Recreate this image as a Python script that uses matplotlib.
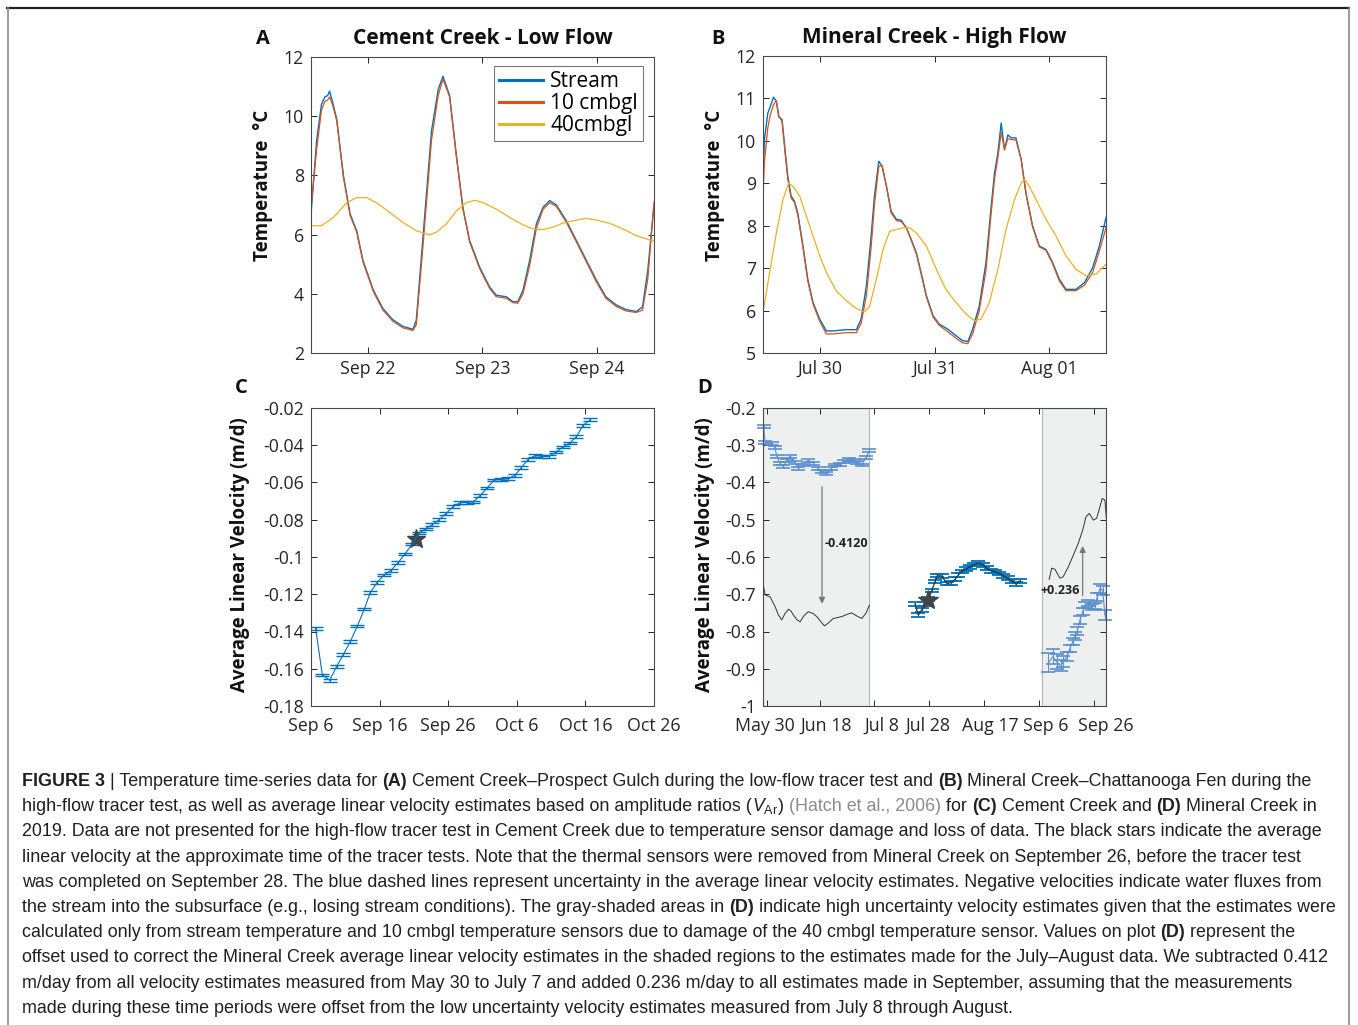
import matplotlib
matplotlib.use("Agg")
import matplotlib.pyplot as plt
import matplotlib.dates as mdates
import matplotlib.transforms as mtransforms
from matplotlib.lines import Line2D
from matplotlib.font_manager import FontProperties
import pandas as pd

W, H = 1358, 1025

# ---------------- data ----------------
# A: Cement Creek, hours after 2019-09-21 00:00
hours_A = [12.0, 13.2, 14.2, 14.9, 15.5, 15.9, 16.5, 17.4, 18.8, 20.2, 21.6, 22.9, 25.1, 27.1, 29.2,
           31.3, 33.4, 34.1, 35.5, 37.3, 38.7, 39.7, 41.1, 42.5, 43.9, 45.3, 47.4, 49.5, 50.9, 53.0,
           54.4, 55.4, 56.5, 57.9, 59.3, 60.7, 62.1, 63.5, 65.6, 67.7, 69.8, 71.9, 73.9, 76.1, 78.1,
           80.3, 81.6, 82.7, 84.0]
stream_A = [6.7, 9.2, 10.4, 10.65, 10.7, 10.85, 10.5, 9.9, 8.0, 6.7, 6.13, 5.13, 4.12, 3.5, 3.12,
            2.9, 2.8, 3.1, 5.9, 9.5, 10.9, 11.35, 10.7, 8.7, 6.9, 5.8, 4.9, 4.23, 3.95, 3.9,
            3.73, 3.73, 4.12, 5.13, 6.36, 6.92, 7.15, 7.0, 6.47, 5.8, 5.13, 4.46, 3.9, 3.62, 3.47,
            3.4, 3.56, 4.8, 7.0]
cm10_A = [6.9, 8.9, 10.2, 10.5, 10.55, 10.65, 10.4, 9.85, 7.95, 6.65, 6.08, 5.08, 4.07, 3.45, 3.07,
          2.85, 2.76, 2.95, 5.6, 9.2, 10.7, 11.25, 10.65, 8.65, 6.85, 5.75, 4.85, 4.18, 3.9, 3.85,
          3.7, 3.68, 4.0, 4.95, 6.2, 6.85, 7.08, 6.95, 6.42, 5.75, 5.08, 4.4, 3.85, 3.57, 3.42,
          3.37, 3.45, 4.5, 7.1]
hours40_A = [12.0, 14.2, 16.7, 19.5, 21.6, 23.7, 25.7, 28.5, 31.3, 34.1, 36.9, 38.3, 40.4, 42.5, 44.6,
             46.4, 48.1, 50.9, 53.7, 56.5, 58.6, 60.7, 62.8, 64.9, 67.7, 69.8, 71.9, 74.7, 77.5, 80.2,
             83.0, 84.0]
cm40_A = [6.3, 6.3, 6.58, 7.08, 7.25, 7.25, 7.08, 6.75, 6.41, 6.13, 5.99, 6.08, 6.36, 6.8, 7.08,
          7.16, 7.08, 6.86, 6.58, 6.33, 6.19, 6.17, 6.25, 6.39, 6.49, 6.55, 6.49, 6.38, 6.19, 5.97,
          5.82, 5.8]

# B: Mineral Creek, hours after 2019-07-29 00:00
hours_B = [12.0, 12.3, 13.0, 13.5, 14.2, 14.8, 15.3, 16.0, 16.7, 17.2, 17.9, 18.6, 19.3, 20.4, 21.4,
           22.5, 23.9, 25.3, 26.7, 29.5, 31.6, 32.6, 33.7, 34.7, 35.4, 36.3, 37.0, 37.9, 38.9, 40.0,
           41.0, 42.1, 43.1, 44.2, 45.2, 46.3, 47.7, 49.0, 50.8, 52.5, 53.9, 55.0, 56.0, 57.4, 58.8,
           59.9, 60.6, 61.3, 62.0, 62.7, 63.4, 64.1, 65.1, 66.2, 67.2, 68.6, 70.0, 71.4, 72.8, 74.2,
           75.6, 77.7, 79.5, 81.2, 82.6, 84.0]
stream_B = [9.17, 10.03, 10.65, 10.8, 11.03, 10.93, 10.57, 10.5, 9.71, 9.17, 8.7, 8.58, 8.3, 7.52, 6.74,
            6.19, 5.8, 5.52, 5.52, 5.55, 5.55, 5.8, 6.58, 7.76, 8.7, 9.52, 9.4, 8.93, 8.34, 8.15,
            8.13, 7.95, 7.68, 7.36, 6.89, 6.35, 5.88, 5.68, 5.56, 5.41, 5.29, 5.27, 5.56, 6.11, 7.13,
            8.46, 9.24, 9.71, 10.42, 9.79, 10.14, 10.07, 10.07, 9.56, 8.77, 7.99, 7.52, 7.44, 7.13, 6.74,
            6.5, 6.5, 6.66, 7.01, 7.52, 8.19]
cm10_B = [8.7, 9.5, 10.3, 10.6, 10.85, 10.95, 10.6, 10.45, 9.65, 9.1, 8.65, 8.55, 8.25, 7.48, 6.7,
          6.15, 5.75, 5.45, 5.45, 5.48, 5.48, 5.7, 6.35, 7.5, 8.5, 9.4, 9.42, 8.95, 8.3, 8.12,
          8.1, 7.95, 7.66, 7.33, 6.86, 6.32, 5.85, 5.65, 5.5, 5.35, 5.24, 5.22, 5.45, 6.0, 6.95,
          8.3, 9.1, 9.6, 10.2, 9.8, 10.05, 10.03, 10.02, 9.55, 8.75, 7.97, 7.5, 7.42, 7.1, 6.7,
          6.47, 6.47, 6.6, 6.9, 7.4, 7.95]
hours40_B = [12.0, 13.4, 14.8, 16.2, 17.4, 18.6, 19.7, 21.1, 22.5, 23.9, 25.3, 27.4, 29.5, 31.6, 33.3,
             34.4, 35.8, 37.2, 38.6, 40.0, 41.4, 42.8, 44.2, 46.3, 48.4, 50.4, 52.5, 54.6, 56.4, 57.8,
             59.5, 61.3, 63.0, 64.8, 66.2, 66.9, 67.9, 69.3, 71.4, 73.5, 75.6, 77.7, 79.8, 81.9, 84.0]
cm40_B = [5.95, 6.9, 7.83, 8.62, 9.01, 8.89, 8.7, 8.23, 7.76, 7.29, 6.9, 6.46, 6.23, 6.05, 5.97,
          6.11, 6.74, 7.44, 7.87, 7.91, 7.95, 7.95, 7.83, 7.52, 6.97, 6.5, 6.19, 5.92, 5.76, 5.8,
          6.19, 6.97, 7.91, 8.62, 9.01, 9.09, 8.93, 8.62, 8.15, 7.76, 7.29, 6.97, 6.82, 6.86, 7.09]

# C: Cement Creek velocity, days after 2019-09-06
days_C = [0.68, 1.65, 2.72, 3.74, 4.71, 5.73, 6.75, 7.77, 8.64, 9.66, 10.63, 11.65, 12.67, 13.69,
          14.76, 15.73, 16.7, 17.67, 18.69, 19.66, 20.73, 21.7, 22.67, 23.64, 24.66, 25.68, 26.7,
          27.67, 28.74, 29.71, 30.68, 31.65, 32.67, 33.69, 34.66, 35.68, 36.7, 37.72, 38.69, 39.66, 40.73]
vel_C = [-0.1384, -0.1633, -0.1662, -0.1588, -0.1524, -0.1454, -0.1371, -0.128, -0.119, -0.1136,
         -0.1097, -0.1072, -0.1031, -0.0984, -0.093, -0.0871, -0.0849, -0.0826, -0.0799, -0.0767,
         -0.0729, -0.0709, -0.0706, -0.0704, -0.067, -0.0629, -0.0586, -0.0584, -0.058, -0.0562,
         -0.0519, -0.0476, -0.0455, -0.046, -0.046, -0.0437, -0.041, -0.0388, -0.0354, -0.0293, -0.0263]
err_C = 0.0007
star_C = (15.26, -0.0905)

# D: Mineral Creek velocity, days after 2019-05-30
days_D1 = [-1.35, -0.84, 1.6, 2.8, 3.4, 4.6, 5.8, 7.1, 8.3, 10.1, 11.3, 13.2, 14.8, 16.8, 18.4,
           19.9, 21.4, 23.3, 24.8, 26.6, 28.1, 29.8, 31.4, 32.6, 34.4, 36.0, 37.2]
vel_D1 = [-0.250, -0.293, -0.295, -0.307, -0.329, -0.348, -0.358, -0.340, -0.329, -0.347, -0.362,
          -0.353, -0.340, -0.348, -0.362, -0.371, -0.375, -0.362, -0.353, -0.351, -0.344, -0.338,
          -0.340, -0.347, -0.353, -0.332, -0.315]
days_D1c = [-1.7, -0.8, 1.0, 2.8, 4.0, 5.2, 6.4, 7.7, 8.6, 9.5, 10.7, 11.9, 13.4, 14.9, 16.5, 18.0,
            19.4, 20.8, 22.4, 24.0, 27.1, 29.0, 30.7, 32.5, 34.4, 36.0, 37.2]
vel_D1c = [-0.666, -0.702, -0.707, -0.733, -0.755, -0.769, -0.752, -0.740, -0.745, -0.756, -0.768,
           -0.774, -0.757, -0.747, -0.751, -0.760, -0.773, -0.785, -0.776, -0.765, -0.760, -0.754,
           -0.750, -0.758, -0.765, -0.750, -0.729]
days_D2 = [53.8, 55.0, 56.2, 57.4, 58.7, 59.9, 61.1, 61.9, 63.5, 65.4, 66.9, 68.4, 69.6, 70.8, 72.4,
           73.8, 75.4, 76.9, 78.5, 79.9, 81.5, 83.0, 84.5, 86.0, 87.6, 89.0, 90.6, 92.1]
vel_D2 = [-0.726, -0.756, -0.742, -0.726, -0.712, -0.690, -0.666, -0.650, -0.651, -0.671, -0.669,
          -0.660, -0.648, -0.639, -0.633, -0.626, -0.620, -0.617, -0.621, -0.630, -0.637, -0.639,
          -0.644, -0.651, -0.657, -0.664, -0.673, -0.664]
star_D = (58.7, -0.715)
days_D3 = [102.4, 104.0, 105.4, 106.9, 107.8, 109.1, 110.3, 111.3, 112.1, 112.9, 113.9, 114.9,
           115.7, 116.9, 118.2, 119.4, 120.2, 121.2, 122.2, 123.0]
vel_D3 = [-0.884, -0.868, -0.881, -0.892, -0.881, -0.868, -0.845, -0.827, -0.812, -0.799, -0.769,
          -0.747, -0.729, -0.724, -0.733, -0.732, -0.707, -0.684, -0.689, -0.756]
err_D3 = [0.025, 0.02, 0.02, 0.015, 0.015, 0.012, 0.01, 0.01, 0.01, 0.01, 0.01, 0.01, 0.008, 0.008,
          0.008, 0.008, 0.01, 0.012, 0.012, 0.014]
days_D3c = [102.7, 103.6, 104.8, 106.6, 107.8, 109.7, 111.5, 113.3, 114.9, 116.1, 117.3, 118.8,
            120.0, 121.2, 122.0, 123.0, 123.6]
vel_D3c = [-0.660, -0.630, -0.633, -0.657, -0.653, -0.626, -0.595, -0.563, -0.528, -0.492, -0.483,
           -0.501, -0.496, -0.465, -0.443, -0.447, -0.501]
shade_D = [(-1.6, 37.2), (100.0, 123.5)]
offsets_D = ["-0.4120", "+0.236"]

ticks_A = ["Sep 22", "Sep 23", "Sep 24"]
ticks_B = ["Jul 30", "Jul 31", "Aug 01"]
ticks_C = ["Sep 6", "Sep 16", "Sep 26", "Oct 6", "Oct 16", "Oct 26"]
ticks_D = ["May 30", "Jun 18", "Jul 8", "Jul 28", "Aug 17", "Sep 6", "Sep 26"]
yt_C = ["-0.18", "-0.16", "-0.14", "-0.12", "-0.1", "-0.08", "-0.06", "-0.04", "-0.02"]
yt_D = ["-1", "-0.9", "-0.8", "-0.7", "-0.6", "-0.5", "-0.4", "-0.3", "-0.2"]

caption = [
    [("FIGURE 3", "b"), (" | Temperature time-series data for ", "n"), ("(A)", "b"),
     (" Cement Creek\u2013Prospect Gulch during the low-flow tracer test and ", "n"), ("(B)", "b"),
     (" Mineral Creek\u2013Chattanooga Fen during the", "n")],
    [("high-flow tracer test, as well as average linear velocity estimates based on amplitude ratios (", "n"),
     (r"$V_{\mathrm{Ar}}$", "m"), (") ", "n"), ("(Hatch et al., 2006)", "g"), (" for ", "n"), ("(C)", "b"),
     (" Cement Creek and ", "n"), ("(D)", "b"), (" Mineral Creek in", "n")],
    [("2019. Data are not presented for the high-flow tracer test in Cement Creek due to temperature sensor damage and loss of data. The black stars indicate the average", "n")],
    [("linear velocity at the approximate time of the tracer tests. Note that the thermal sensors were removed from Mineral Creek on September 26, before the tracer test", "n")],
    [("was completed on September 28. The blue dashed lines represent uncertainty in the average linear velocity estimates. Negative velocities indicate water fluxes from", "n")],
    [("the stream into the subsurface (e.g., losing stream conditions). The gray-shaded areas in ", "n"), ("(D)", "b"),
     (" indicate high uncertainty velocity estimates given that the estimates were", "n")],
    [("calculated only from stream temperature and 10 cmbgl temperature sensors due to damage of the 40 cmbgl temperature sensor. Values on plot ", "n"),
     ("(D)", "b"), (" represent the", "n")],
    [("offset used to correct the Mineral Creek average linear velocity estimates in the shaded regions to the estimates made for the July\u2013August data. We subtracted 0.412", "n")],
    [("m/day from all velocity estimates measured from May 30 to July 7 and added 0.236 m/day to all estimates made in September, assuming that the measurements", "n")],
    [("made during these time periods were offset from the low uncertainty velocity estimates measured from July 8 through August.", "n")],
]

# ---------------- style ----------------
plt.rcParams["font.family"] = ["Open Sans", "DejaVu Sans"]
plt.rcParams["axes.unicode_minus"] = False
plt.rcParams["mathtext.fontset"] = "custom"
plt.rcParams["mathtext.rm"] = "Liberation Sans"
plt.rcParams["mathtext.it"] = "Liberation Sans:italic"
plt.rcParams["mathtext.bf"] = "Liberation Sans:bold"

BLUE, RED, YEL = "#0072BD", "#D95319", "#EDB120"
LBLUE = "#5b8fcf"
INK = "#262626"


def hrs(base, h):
    return mdates.date2num(pd.Timestamp(base) + pd.to_timedelta(h, unit="h"))


def dys(base, d):
    return mdates.date2num(pd.Timestamp(base) + pd.to_timedelta(d, unit="D"))


fig = plt.figure(figsize=(W / 100, H / 100), dpi=100)


def px_axes(l, t, r, b):
    return fig.add_axes([l / W, 1 - b / H, (r - l) / W, (b - t) / H])


def style(ax, xpad):
    ax.tick_params(direction="in", top=True, right=True, length=4, width=0.7,
                   colors=INK, labelsize=12.8, pad=5)
    ax.tick_params(axis="x", pad=xpad)
    for s in ax.spines.values():
        s.set_color("#4a4a4a")
        s.set_linewidth(0.8)


axA = px_axes(311, 57, 654, 353)
axB = px_axes(763, 56, 1106, 353)
axC = px_axes(311, 408, 654, 706)
axD = px_axes(763, 408, 1106, 706)

# ---- A ----
axA.plot(hrs("2019-09-21", hours_A), stream_A, color=BLUE, lw=1.0, label="Stream")
axA.plot(hrs("2019-09-21", hours_A), cm10_A, color=RED, lw=0.9, label="10 cmbgl")
axA.plot(hrs("2019-09-21", hours40_A), cm40_A, color=YEL, lw=0.9, label="40cmbgl")
axA.set_xlim(hrs("2019-09-21", [12.0, 84.0]))
axA.set_ylim(2, 12)
axA.set_yticks([2, 4, 6, 8, 10, 12])
axA.set_xticks(dys("2019-09-22", [0, 1, 2]))
axA.set_xticklabels(ticks_A)
leg = axA.legend(loc="upper right", bbox_to_anchor=(0.968, 0.97), borderaxespad=0, fontsize=15,
                 handlelength=2.1, handletextpad=0.35, labelspacing=0.05, borderpad=0.25,
                 fancybox=False, framealpha=1, edgecolor="#777777")
leg.get_frame().set_linewidth(0.8)
for ln in leg.get_lines():
    ln.set_linewidth(2.2)

# ---- B ----
axB.plot(hrs("2019-07-29", hours_B), stream_B, color=BLUE, lw=1.0)
axB.plot(hrs("2019-07-29", hours_B), cm10_B, color=RED, lw=0.9)
axB.plot(hrs("2019-07-29", hours40_B), cm40_B, color=YEL, lw=0.9)
axB.set_xlim(hrs("2019-07-29", [12.0, 84.0]))
axB.set_ylim(5, 12)
axB.set_yticks(range(5, 13))
axB.set_xticks(dys("2019-07-30", [0, 1, 2]))
axB.set_xticklabels(ticks_B)

for ax, title, letter, lx in [(axA, "Cement Creek - Low Flow", "A", 256), (axB, "Mineral Creek - High Flow", "B", 711)]:
    ax.set_title(title, fontsize=15, fontweight="bold", pad=9, color="#111111")
    ax.set_ylabel("Temperature  \u00b0C", fontsize=13.5, fontweight="bold", color="#111111")
    ax.yaxis.set_label_coords(-0.11, 0.565)
    fig.text(lx / W, 1 - 44 / H, letter, fontsize=14.5, fontweight="bold", color="#111111")

# ---- C ----
axC.errorbar(dys("2019-09-06", days_C), vel_C, yerr=err_C, fmt="-", color=BLUE, lw=0.8,
             elinewidth=0.9, capsize=5, capthick=1.0)
axC.plot(dys("2019-09-06", [star_C[0]]), [star_C[1]], marker="*", ms=14, color="#444444", mec="#444444")
axC.set_xlim(dys("2019-09-06", [0, 50]))
axC.set_xticks(dys("2019-09-06", [0, 10, 20, 30, 40, 50]))
axC.set_xticklabels(ticks_C)
axC.set_ylim(-0.18, -0.02)
axC.set_yticks([-0.18 + 0.02 * i for i in range(9)])
axC.set_yticklabels(yt_C)

# ---- D ----
for a, b in shade_D:
    axD.axvspan(dys("2019-05-30", a), dys("2019-05-30", b), facecolor="#eef0ef", edgecolor="#b5b5b5",
                lw=0.8, zorder=0)
axD.errorbar(dys("2019-05-30", days_D1), vel_D1, yerr=0.004, fmt="-", color=LBLUE, lw=0.8,
             elinewidth=0.8, capsize=5, capthick=1.2, clip_on=False)
axD.plot(dys("2019-05-30", days_D1c), vel_D1c, color="#333333", lw=0.7)
axD.errorbar(dys("2019-05-30", days_D2), vel_D2, yerr=0.005, fmt="none", ecolor=BLUE,
             elinewidth=0.8, capsize=5, capthick=1.3)
axD.plot(dys("2019-05-30", days_D2), vel_D2, color="#333333", lw=0.9)
axD.plot(dys("2019-05-30", [star_D[0]]), [star_D[1]], marker="*", ms=15, color="#444444", mec="#444444")
ebD3 = axD.errorbar(dys("2019-05-30", days_D3), vel_D3, yerr=err_D3, fmt="-", color=LBLUE, lw=0.8,
                    elinewidth=0.8, capsize=5, capthick=1.2)
for art in ebD3.lines[1] + ebD3.lines[2]:
    art.set_clip_on(False)
axD.plot(dys("2019-05-30", days_D3c), vel_D3c, color="#333333", lw=0.7)
axD.annotate("", xy=(dys("2019-05-30", 19.9), -0.733), xytext=(dys("2019-05-30", 19.9), -0.404),
             arrowprops=dict(arrowstyle="-|>", color="#777777", lw=0.9, mutation_scale=9))
axD.annotate("", xy=(dys("2019-05-30", 114.9), -0.563), xytext=(dys("2019-05-30", 114.9), -0.711),
             arrowprops=dict(arrowstyle="-|>", color="#777777", lw=0.9, mutation_scale=9))
axD.text(dys("2019-05-30", 21.0), -0.565, offsets_D[0], fontsize=9, fontweight="bold",
         va="center", ha="left", color="#222222")
axD.text(dys("2019-05-30", 99.6), -0.689, offsets_D[1], fontsize=9, fontweight="bold",
         va="center", ha="left", color="#222222")
axD.set_xlim(dys("2019-05-30", [-1.6, 123.4]))
axD.set_xticks(dys("2019-05-30", [0, 19, 39, 59, 79, 99, 119]))
axD.set_xticklabels(ticks_D)
axD.set_ylim(-1, -0.2)
axD.set_yticks([-1 + 0.1 * i for i in range(9)])
axD.set_yticklabels(yt_D)

for ax, letter, lx, lab_x in [(axC, "C", 235, -0.178), (axD, "D", 697, -0.14)]:
    ax.set_ylabel("Average Linear Velocity (m/d)", fontsize=13.5, fontweight="bold", color="#111111")
    ax.yaxis.set_label_coords(lab_x, 0.507)
    fig.text(lx / W, 1 - 393 / H, letter, fontsize=14.5, fontweight="bold", color="#111111")

style(axA, 5)
style(axB, 5)
style(axC, 8)
style(axD, 8)

# spread the crowded date labels of D a little, as in the source figure
shift_D = [-3, 7, 7, -1, 6, 7, 12]
for lab, dx in zip(axD.get_xticklabels(), shift_D):
    lab.set_transform(lab.get_transform() + mtransforms.ScaledTranslation(dx / 100, 0, fig.dpi_scale_trans))

# ---- figure frame ----
fig.add_artist(Line2D([7 / W, 1349 / W], [1 - 7.5 / H, 1 - 7.5 / H], color="#222222", lw=1.6))
fig.add_artist(Line2D([7.5 / W, 7.5 / W], [0, 1 - 7.5 / H], color="#8a8a8a", lw=1.2))
fig.add_artist(Line2D([1349 / W, 1349 / W], [0, 1 - 7.5 / H], color="#8a8a8a", lw=1.2))

# ---- caption ----
renderer = fig.canvas.get_renderer()
CAP = 12.9
props = {
    "n": dict(family="Liberation Sans", weight="normal", color="#231f20"),
    "b": dict(family="Liberation Sans", weight="bold", color="#231f20"),
    "g": dict(family="Liberation Sans", weight="normal", color="#8c8c8c"),
    "m": dict(family="Liberation Sans", weight="normal", color="#231f20"),
}


def width_px(s, kind):
    fp = FontProperties(family=props[kind]["family"], weight=props[kind]["weight"], size=CAP)
    if kind == "m":
        return renderer.get_text_width_height_descent(s, fp, ismath=True)[0]
    w1 = renderer.get_text_width_height_descent("x" + s + "x", fp, ismath=False)[0]
    w0 = renderer.get_text_width_height_descent("xx", fp, ismath=False)[0]
    return w1 - w0


for i, runs in enumerate(caption):
    x = 22.0
    y = 786 + 25.2 * i
    for txt, kind in runs:
        fig.text(x / W, 1 - y / H, txt, fontsize=CAP, va="baseline", ha="left", **props[kind])
        x += width_px(txt, kind)

fig.savefig("out.png", dpi=100)
